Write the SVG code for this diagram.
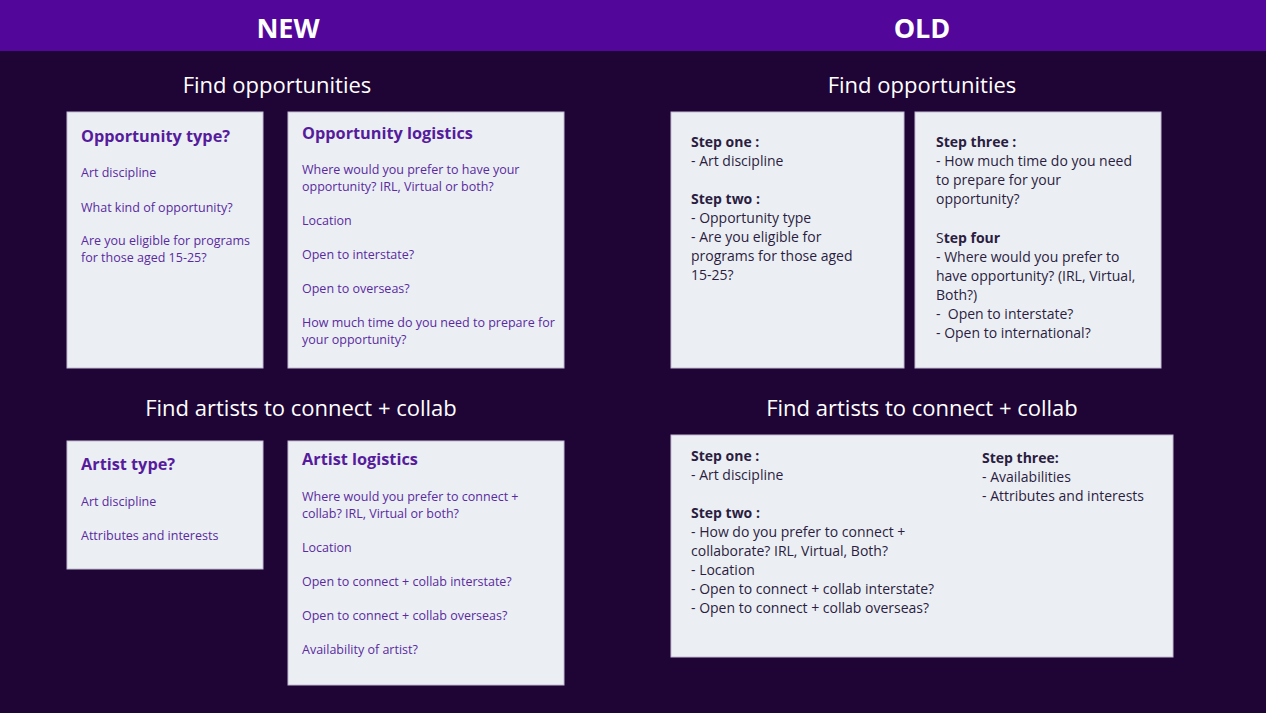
<svg xmlns="http://www.w3.org/2000/svg" width="1266" height="713" viewBox="0 0 1266 713">
<style>
.bg{fill:#1f0535}
.hdr{fill:#53079a}
.hd{font-family:"Open Sans","Noto Sans",sans-serif;font-weight:700;font-size:27px;fill:#ffffff;text-anchor:middle}
.sec{font-family:"Open Sans","Noto Sans",sans-serif;font-size:22px;fill:#ffffff;text-anchor:middle}
.box{fill:#ebeff4;stroke:#c4bcd2;stroke-width:1}
.nt{font-family:"Open Sans","Noto Sans",sans-serif;font-weight:700;font-size:16.3px;fill:#561c9c}
.nb{font-family:"Open Sans","Noto Sans",sans-serif;font-size:12.5px;fill:#5a2a9e}
.ob{font-family:"Open Sans","Noto Sans",sans-serif;font-size:14px;fill:#2b1d40}
.obb{font-weight:700}
</style>
<rect class="bg" x="0" y="0" width="1266" height="713"/>
<rect class="hdr" x="0" y="0" width="1266" height="51"/>
<text class="hd" x="288" y="38">NEW</text>
<text class="hd" x="922" y="38">OLD</text>
<text class="sec" x="277" y="93">Find opportunities</text>
<text class="sec" x="922" y="93">Find opportunities</text>
<text class="sec" x="301" y="416">Find artists to connect + collab</text>
<text class="sec" x="922" y="416">Find artists to connect + collab</text>

<g id="opportunity-type">
<rect class="box" x="67" y="112" width="196" height="256"/>
<text class="nt" x="81" y="142">Opportunity type?</text>
<text class="nb" x="81" y="177">Art discipline</text>
<text class="nb" x="81" y="212">What kind of opportunity?</text>
<text class="nb" x="81" y="245">Are you eligible for programs</text>
<text class="nb" x="81" y="262">for those aged 15-25?</text>
</g>

<g id="opportunity-logistics">
<rect class="box" x="288" y="112" width="276" height="256"/>
<text class="nt" x="302" y="139">Opportunity logistics</text>
<text class="nb" x="302" y="174">Where would you prefer to have your</text>
<text class="nb" x="302" y="191">opportunity? IRL, Virtual or both?</text>
<text class="nb" x="302" y="225">Location</text>
<text class="nb" x="302" y="259">Open to interstate?</text>
<text class="nb" x="302" y="293">Open to overseas?</text>
<text class="nb" x="302" y="327">How much time do you need to prepare for</text>
<text class="nb" x="302" y="344">your opportunity?</text>
</g>

<g id="old-opp-steps-1-2">
<rect class="box" x="671" y="112" width="233" height="256"/>
<text class="ob obb" x="691" y="147">Step one :</text>
<text class="ob" x="691" y="166">- Art discipline</text>
<text class="ob obb" x="691" y="204">Step two :</text>
<text class="ob" x="691" y="223">- Opportunity type</text>
<text class="ob" x="691" y="242">- Are you eligible for</text>
<text class="ob" x="691" y="261">programs for those aged</text>
<text class="ob" x="691" y="280">15-25?</text>
</g>

<g id="old-opp-steps-3-4">
<rect class="box" x="915" y="112" width="246" height="256"/>
<text class="ob obb" x="936" y="147">Step three :</text>
<text class="ob" x="936" y="166">- How much time do you need</text>
<text class="ob" x="936" y="185">to prepare for your</text>
<text class="ob" x="936" y="204">opportunity?</text>
<text class="ob" x="936" y="243">S<tspan class="obb">tep four</tspan></text>
<text class="ob" x="936" y="262">- Where would you prefer to</text>
<text class="ob" x="936" y="281">have opportunity? (IRL, Virtual,</text>
<text class="ob" x="936" y="300">Both?)</text>
<text class="ob" x="936" y="319" xml:space="preserve">-  Open to interstate?</text>
<text class="ob" x="936" y="338">- Open to international?</text>
</g>

<g id="artist-type">
<rect class="box" x="67" y="441" width="196" height="128"/>
<text class="nt" x="81" y="470">Artist type?</text>
<text class="nb" x="81" y="506">Art discipline</text>
<text class="nb" x="81" y="540">Attributes and interests</text>
</g>

<g id="artist-logistics">
<rect class="box" x="288" y="441" width="276" height="244"/>
<text class="nt" x="302" y="465">Artist logistics</text>
<text class="nb" x="302" y="501">Where would you prefer to connect +</text>
<text class="nb" x="302" y="518">collab? IRL, Virtual or both?</text>
<text class="nb" x="302" y="552">Location</text>
<text class="nb" x="302" y="586">Open to connect + collab interstate?</text>
<text class="nb" x="302" y="620">Open to connect + collab overseas?</text>
<text class="nb" x="302" y="654">Availability of artist?</text>
</g>

<g id="old-artist-steps">
<rect class="box" x="671" y="435" width="502" height="222"/>
<text class="ob obb" x="691" y="461">Step one :</text>
<text class="ob" x="691" y="480">- Art discipline</text>
<text class="ob obb" x="691" y="518">Step two :</text>
<text class="ob" x="691" y="537">- How do you prefer to connect +</text>
<text class="ob" x="691" y="556">collaborate? IRL, Virtual, Both?</text>
<text class="ob" x="691" y="575">- Location</text>
<text class="ob" x="691" y="594">- Open to connect + collab interstate?</text>
<text class="ob" x="691" y="613">- Open to connect + collab overseas?</text>
<text class="ob obb" x="982" y="463">Step three:</text>
<text class="ob" x="982" y="482">- Availabilities</text>
<text class="ob" x="982" y="501">- Attributes and interests</text>
</g>
<g id="connectors"></g>
</svg>
